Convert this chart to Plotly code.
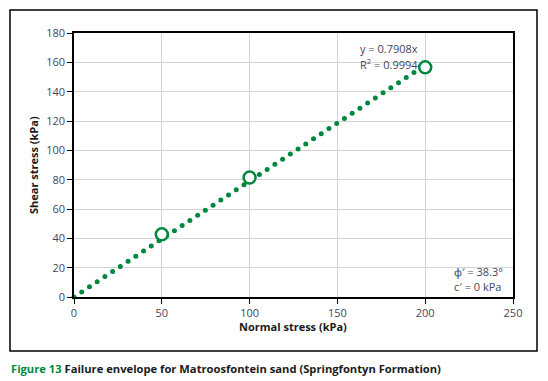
import numpy as np
import plotly.graph_objects as go

# Data
normal_stress = [50, 100, 200]
shear_stress = [42.7, 81.4, 156.6]
slope = 0.7908
r2 = 0.9994
phi = 38.3
cohesion = 0
trend_x_max = 200
trend_step = 4.4

x_ticks = [0, 50, 100, 150, 200, 250]
y_ticks = [0, 20, 40, 60, 80, 100, 120, 140, 160, 180]

green = "#00873e"
txt = "#44465a"
font_fam = "Open Sans, Noto Sans, sans-serif"

tx = np.arange(0, trend_x_max + 0.01, trend_step)
ty = slope * tx

fig = go.Figure()
fig.add_trace(go.Scatter(x=tx, y=ty, mode="markers", cliponaxis=False,
                         marker=dict(size=5, color=green), hoverinfo="skip", showlegend=False))
fig.add_trace(go.Scatter(x=normal_stress, y=shear_stress, mode="markers", cliponaxis=False,
                         marker=dict(size=12, color="white", symbol="circle",
                                     line=dict(color=green, width=2.5)),
                         showlegend=False))

W, H = 548, 381
L, R, T, B = 74, 35, 33, 84
pw, ph = W - L - R, H - T - B

def px(x):
    return (x - L) / pw

def py(y):
    return (H - B - y) / ph

fig.update_layout(
    width=W, height=H,
    margin=dict(l=L, r=R, t=T, b=B),
    plot_bgcolor="white", paper_bgcolor="white",
    font=dict(family=font_fam, size=11, color=txt),
    xaxis=dict(range=[0, 250], tickvals=x_ticks, showgrid=True, gridcolor="#d4d4d4", gridwidth=1,
               showline=True, linecolor="black", linewidth=1.5, mirror=True,
               ticks="outside", ticklen=5, tickcolor="black", zeroline=False,
               tickfont=dict(size=11, color=txt)),
    yaxis=dict(range=[0, 180], tickvals=y_ticks, showgrid=True, gridcolor="#d4d4d4", gridwidth=1,
               showline=True, linecolor="black", linewidth=1.5, mirror=True,
               ticks="outside", ticklen=5, tickcolor="black", zeroline=False,
               tickfont=dict(size=11, color=txt)),
)

fig.add_shape(type="rect", xref="paper", yref="paper",
              x0=px(10), x1=px(537), y0=py(351), y1=py(10),
              line=dict(color="black", width=1.5), fillcolor="rgba(0,0,0,0)", layer="below")

annots = [
    dict(x=px(293), y=py(326), text="<b>Normal stress (kPa)</b>", font=dict(size=11, color="#1a1a1a"),
         xanchor="center", yanchor="middle"),
    dict(x=px(33), y=py(165), text="<b>Shear stress (kPa)</b>", font=dict(size=11, color="#1a1a1a"),
         xanchor="center", yanchor="middle", textangle=-90),
    dict(x=px(420), y=py(49), text=f"y = {slope}x", xanchor="right", yanchor="middle",
         font=dict(size=11, color=txt)),
    dict(x=px(420), y=py(64), text=f"R<sup>2</sup> = {r2}", xanchor="right", yanchor="middle",
         font=dict(size=11, color=txt)),
    dict(x=px(452), y=py(271), text=f"ϕ′ = {phi}°", xanchor="left", yanchor="middle",
         font=dict(size=11, color=txt)),
    dict(x=px(452), y=py(286), text=f"c′ = {cohesion} kPa", xanchor="left", yanchor="middle",
         font=dict(size=11, color=txt)),
    dict(x=px(9), y=py(368), text="<b><span style='color:#00873e'>Figure 13</span> Failure envelope for Matroosfontein sand (Springfontyn Formation)</b>",
         xanchor="left", yanchor="middle", font=dict(size=11.2, color="#1a1a1a")),
]
for a in annots:
    fig.add_annotation(xref="paper", yref="paper", showarrow=False, **a)

fig.write_html("out.html", config={"displayModeBar": False},
               post_script="document.body.style.margin='0';document.body.style.padding='0';")
